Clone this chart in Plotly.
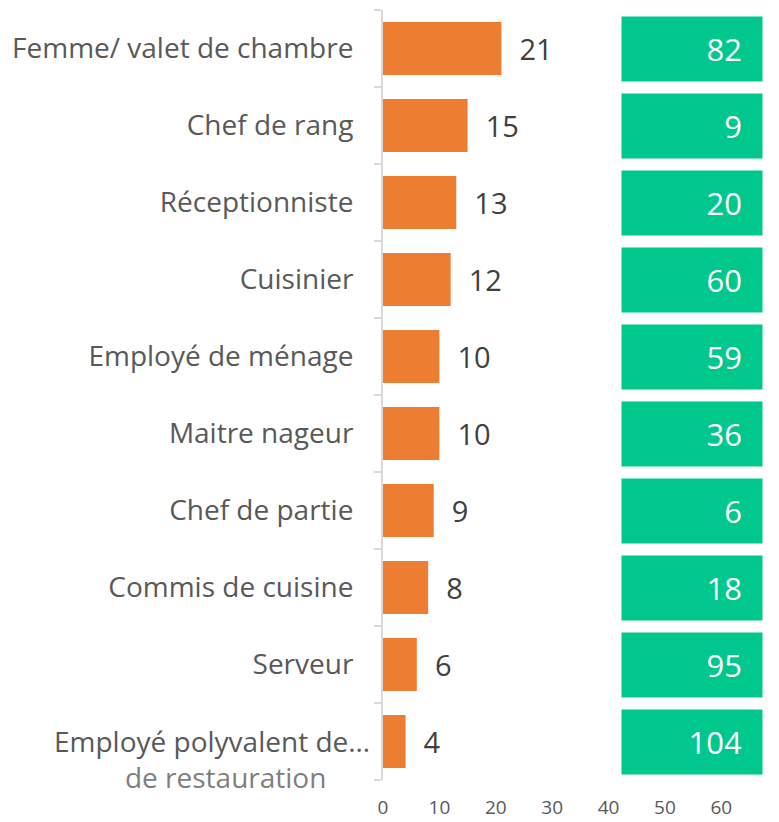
import plotly.graph_objects as go

categories = ["Femme/ valet de chambre", "Chef de rang", "Réceptionniste", "Cuisinier",
              "Employé de ménage", "Maitre nageur", "Chef de partie", "Commis de cuisine",
              "Serveur", "Employé polyvalent de…"]
bar_values = [21, 15, 13, 12, 10, 10, 9, 8, 6, 4]
box_values = [82, 9, 20, 60, 59, 36, 6, 18, 95, 104]
x_ticks = [0, 10, 20, 30, 40, 50, 60]
overflow_text = "de restauration"

FONT = "Open Sans"
ORANGE = "#ED7D31"
GREEN = "#00C78C"
LABEL_COLOR = "#595959"

fig = go.Figure()
fig.add_trace(go.Bar(
    y=categories, x=bar_values, orientation="h",
    marker=dict(color=ORANGE, line=dict(width=0)),
    width=0.69,
    text=["\u00a0\u00a0" + str(v) for v in bar_values],
    textposition="outside", cliponaxis=False,
    textfont=dict(family=FONT, size=29, color="#404040"),
    hoverinfo="skip",
))

for cat, v in zip(categories, box_values):
    fig.add_annotation(
        x=1, xref="paper", xanchor="right",
        y=cat, yref="y", yanchor="middle",
        text=str(v), showarrow=False,
        width=100, height=24, borderpad=20, align="right",
        bgcolor=GREEN,
        font=dict(family=FONT, size=31, color="white"),
    )

# last category label overflows onto a second line in the original rendering
fig.add_annotation(
    x=0, xref="paper", xanchor="right", xshift=-11,
    y=categories[-1], yref="y", yanchor="middle", yshift=-17,
    text=(categories[-1] + "<br><span style='color:#7F7F7F'>" + overflow_text
          + "\u00a0" * 6 + "</span>"),
    align="right", showarrow=False,
    font=dict(family=FONT, size=28, color=LABEL_COLOR),
)

ticktext = categories[:-1] + [""]

fig.update_layout(
    width=771, height=814,
    margin=dict(l=375, r=16, t=2, b=42),
    paper_bgcolor="white", plot_bgcolor="white",
    showlegend=False,
)
fig.update_xaxes(
    range=[0, 67.4], tickvals=x_ticks, showgrid=False, zeroline=False,
    showline=False, ticks="", ticklabelstandoff=14, automargin=False,
    tickfont=dict(family=FONT, size=19, color=LABEL_COLOR),
)
fig.update_yaxes(
    autorange="reversed", showgrid=False, zeroline=False, automargin=False,
    tickmode="array", tickvals=categories, ticktext=ticktext,
    showline=True, linecolor="#D9D9D9", linewidth=2,
    ticks="outside", tickson="boundaries", ticklen=7, tickcolor="#D9D9D9", tickwidth=2,
    ticklabelstandoff=22,
    tickfont=dict(family=FONT, size=28, color=LABEL_COLOR),
)

fig.write_html("out.html")
